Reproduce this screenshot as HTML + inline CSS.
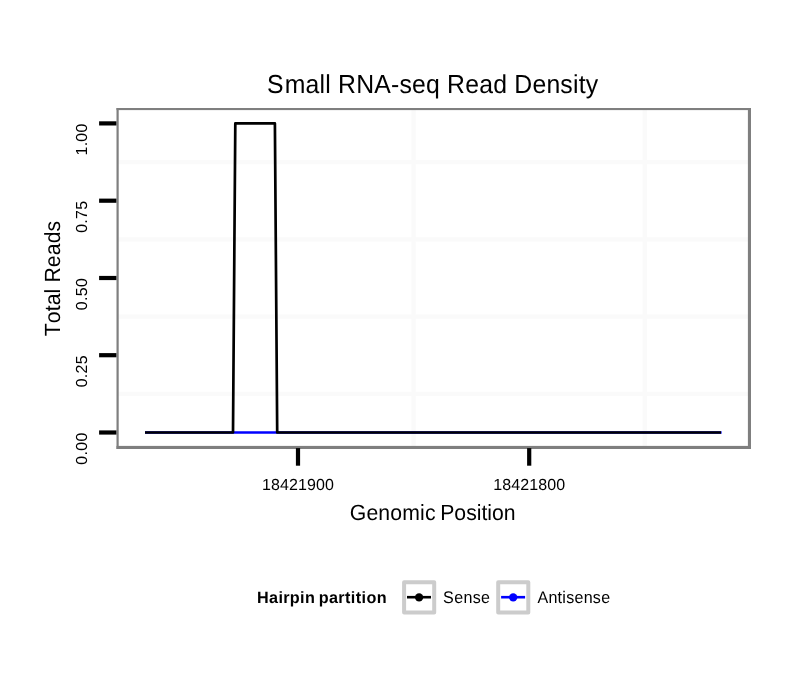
<!DOCTYPE html>
<html lang="en">
<head>
<meta charset="utf-8">
<title>Small RNA-seq Read Density</title>
<style>
html,body{margin:0;padding:0;background:#fff;}
body{width:810px;height:690px;overflow:hidden;}
svg{display:block;}
text{font-family:"Liberation Sans",Arial,Helvetica,sans-serif;fill:#000;font-kerning:none;text-rendering:geometricPrecision;}
.title{font-size:24.8px;letter-spacing:0.2px;}
.axt{font-size:21.2px;letter-spacing:0px;}
.tick{font-size:16.0px;letter-spacing:0.1px;}
.ytick{font-size:16.0px;letter-spacing:0.27px;}
.leg{font-size:16.1px;letter-spacing:0.32px;}
.legt{font-size:16.2px;font-weight:bold;letter-spacing:0.33px;}
</style>
</head>
<body>
<svg width="810" height="690" viewBox="0 0 810 690">
<rect x="0" y="0" width="810" height="690" fill="#ffffff"/>

<!-- minor grid -->
<g stroke="#fafafa" stroke-width="4.4" fill="none">
<line x1="118" x2="749" y1="162.1" y2="162.1"/>
<line x1="118" x2="749" y1="239.4" y2="239.4"/>
<line x1="118" x2="749" y1="316.6" y2="316.6"/>
<line x1="118" x2="749" y1="393.9" y2="393.9"/>
<line y1="109" y2="447" x1="413.6" x2="413.6"/>
<line y1="109" y2="447" x1="644.8" x2="644.8"/>
</g>

<!-- data: antisense (blue) under sense (black) -->
<polyline points="145,432.5 721.6,432.5" fill="none" stroke="#0000ff" stroke-width="2.7"/>
<polyline points="145,432.5 233.0,432.5 235.3,123.4 274.9,123.4 277.2,432.5 721,432.5" fill="none" stroke="#000000" stroke-width="2.7" stroke-linejoin="round"/>

<!-- panel border -->
<g fill="#7f7f7f">
<rect x="116.5" y="108.0" width="634.5" height="2.1"/>
<rect x="116.5" y="445.9" width="634.5" height="3.1"/>
<rect x="116.5" y="108.0" width="2.2" height="341"/>
<rect x="747.9" y="108.0" width="3.1" height="341"/>
</g>

<!-- ticks -->
<g stroke="#000" stroke-width="4.2" fill="none">
<line x1="99.1" x2="116.4" y1="123.4" y2="123.4"/>
<line x1="99.1" x2="116.4" y1="200.7" y2="200.7"/>
<line x1="99.1" x2="116.4" y1="278.0" y2="278.0"/>
<line x1="99.1" x2="116.4" y1="355.2" y2="355.2"/>
<line x1="99.1" x2="116.4" y1="432.5" y2="432.5"/>
<line x1="298.0" x2="298.0" y1="448.1" y2="465.7"/>
<line x1="529.2" x2="529.2" y1="448.1" y2="465.7"/>
</g>

<!-- title -->
<text class="title" transform="translate(433.8,92.8) scale(1,1.049)" text-anchor="middle" dx="-1.1 0.9">Small RNA-seq Read Density</text>

<!-- axis titles -->
<text class="axt" transform="translate(432.7,519.6) scale(1,1.035)" text-anchor="middle" dx="0 0.16 0.16 0.16 0.16 0.16 0.16 -1.2">Genomic Position</text>
<text class="axt" transform="translate(60.4,278.5) rotate(-90) scale(1,1.035)" text-anchor="middle" style="letter-spacing:0.11px">Total Reads</text>

<!-- y tick labels -->
<text class="ytick" transform="translate(87.1,123.3) rotate(-90) scale(1,1.0)" text-anchor="end">1.00</text>
<text class="ytick" transform="translate(87.1,200.6) rotate(-90) scale(1,1.0)" text-anchor="end">0.75</text>
<text class="ytick" transform="translate(87.1,277.9) rotate(-90) scale(1,1.0)" text-anchor="end">0.50</text>
<text class="ytick" transform="translate(87.1,355.1) rotate(-90) scale(1,1.0)" text-anchor="end">0.25</text>
<text class="ytick" transform="translate(87.1,432.4) rotate(-90) scale(1,1.0)" text-anchor="end">0.00</text>

<!-- x tick labels -->
<text class="tick" transform="translate(298.1,489.9) scale(1,1.0)" text-anchor="middle">18421900</text>
<text class="tick" transform="translate(529.3,489.9) scale(1,1.0)" text-anchor="middle">18421800</text>

<!-- legend -->
<text class="legt" transform="translate(257.0,602.8) scale(1,1.01)" text-anchor="start" dx="0 0 0 0 0 0 0 0 -1.31 0.07 0.07 0.07 0.07 0.07 0.07 0.07 0.07">Hairpin partition</text>
<rect x="404.1" y="582.2" width="30.1" height="30.3" fill="#fff" stroke="#cccccc" stroke-width="4" stroke-linejoin="round"/>
<line x1="407" x2="431" y1="597.2" y2="597.2" stroke="#000" stroke-width="2.6"/>
<circle cx="419.1" cy="597.4" r="4.15" fill="#000"/>
<text class="leg" transform="translate(443.1,602.8) scale(1,1.047)" text-anchor="start">Sense</text>
<rect x="498.2" y="582.2" width="30.1" height="30.3" fill="#fff" stroke="#cccccc" stroke-width="4" stroke-linejoin="round"/>
<line x1="501.1" x2="525.1" y1="597.2" y2="597.2" stroke="#0000ff" stroke-width="2.6"/>
<circle cx="513.2" cy="597.4" r="4.15" fill="#0000ff"/>
<text class="leg" transform="translate(537.4,602.8) scale(1,1.047)" text-anchor="start" style="letter-spacing:0.25px">Antisense</text>
</svg>
</body>
</html>
